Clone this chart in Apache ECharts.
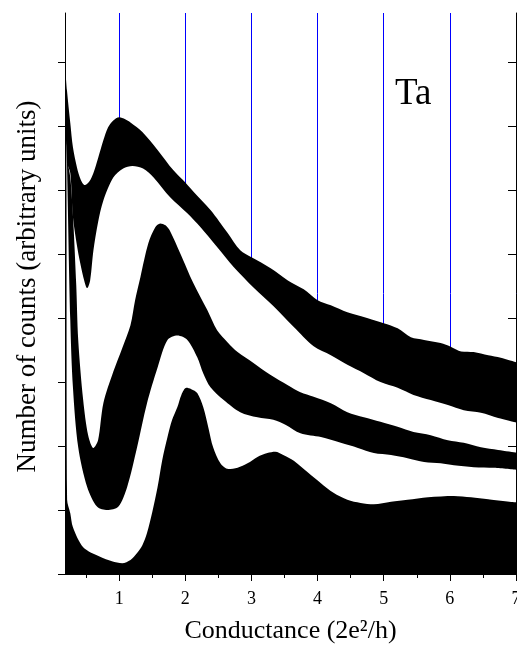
<!DOCTYPE html>
<html>
<head>
<meta charset="utf-8">
<script src="https://cdn.jsdelivr.net/npm/echarts@6/dist/echarts.min.js"></script>
<style>
  html, body { margin: 0; padding: 0; background: #fff; }
  #chart { width: 517px; height: 646px; }
</style>
</head>
<body>
<div id="chart"></div>
<script>
// Conductance histograms of Ta, five curves stacked with vertical offsets.
// Each curve is painted as a filled area down to the baseline; curve 5 first,
// curve 1 last, alternating black and white so the gaps read as bands.

// Curve 1 (lowest)
const g1 = [0.18, 0.2, 0.212, 0.26, 0.30, 0.455, 0.71, 0.89, 1.045, 1.17,
            1.27, 1.35, 1.42, 1.5, 1.58, 1.65, 1.73, 1.8, 1.88, 1.94,
            2.015, 2.09, 2.18, 2.27, 2.35, 2.42, 2.53, 2.65, 2.79, 2.94,
            3.09, 3.24, 3.36, 3.48, 3.64, 3.85, 4.05, 4.24, 4.45, 4.65,
            4.85, 5.11, 5.36, 5.67, 6.06, 6.32, 6.58, 7.0];
const n1 = [7.9, 7.0, 1.16, 0.95, 0.73, 0.42, 0.27, 0.20, 0.17, 0.22,
            0.33, 0.45, 0.64, 0.97, 1.36, 1.78, 2.14, 2.41, 2.61, 2.80,
            2.91, 2.89, 2.83, 2.61, 2.28, 1.98, 1.73, 1.64, 1.66, 1.73,
            1.83, 1.89, 1.91, 1.86, 1.77, 1.59, 1.42, 1.27, 1.16, 1.11,
            1.09, 1.13, 1.16, 1.20, 1.22, 1.20, 1.17, 1.12];

// Curve 2
const g2 = [0.18, 0.2, 0.21, 0.26, 0.30, 0.38, 0.515, 0.667, 0.82, 0.985,
            1.12, 1.27, 1.42, 1.58, 1.73, 1.88, 2.03, 2.18, 2.27, 2.38,
            2.58, 2.83, 3.09, 3.33, 3.52, 3.74, 4.05, 4.35, 4.61, 4.85,
            5.11, 5.36, 5.61, 5.86, 6.06, 6.36, 6.67, 7.0];
const n2 = [7.2, 6.7, 6.42, 3.97, 2.92, 1.98, 1.36, 1.05, 1.0, 1.05,
            1.36, 1.98, 2.67, 3.23, 3.66, 3.73, 3.66, 3.39, 3.14, 2.92,
            2.72, 2.53, 2.45, 2.41, 2.33, 2.20, 2.14, 2.05, 1.97, 1.89,
            1.86, 1.81, 1.75, 1.73, 1.70, 1.67, 1.66, 1.63];

// Curve 3
const g3 = [0.18, 0.21, 0.26, 0.30, 0.35, 0.38, 0.455, 0.53, 0.61, 0.68,
            0.76, 0.91, 1.045, 1.17, 1.24, 1.32, 1.44, 1.545, 1.62, 1.70,
            1.77, 1.92, 2.12, 2.33, 2.48, 2.64, 2.79, 3.03, 3.29, 3.55,
            3.74, 3.94, 4.2, 4.45, 4.7, 4.95, 5.21, 5.45, 5.71, 5.97,
            6.21, 6.47, 6.73, 7.0];
const n3 = [6.9, 6.5, 6.2, 5.61, 4.52, 3.66, 2.72, 2.17, 1.97, 2.09,
            2.67, 3.16, 3.53, 3.89, 4.28, 4.64, 5.17, 5.42, 5.48, 5.45,
            5.36, 5.02, 4.55, 4.13, 3.81, 3.62, 3.47, 3.30, 3.11, 2.95,
            2.84, 2.77, 2.67, 2.53, 2.45, 2.38, 2.30, 2.22, 2.17, 2.09,
            2.05, 1.98, 1.94, 1.90];

// Curve 4
const g4 = [0.18, 0.21, 0.26, 0.30, 0.36, 0.41, 0.47, 0.515, 0.56, 0.61,
            0.68, 0.76, 0.91, 1.06, 1.2, 1.36, 1.52, 1.77, 2.03, 2.23,
            2.48, 2.73, 3.03, 3.33, 3.64, 3.94, 4.2, 4.45, 4.7, 4.95,
            5.21, 5.45, 5.71, 5.97, 6.21, 6.47, 6.73, 7.0];
const n4 = [6.6, 6.42, 6.27, 5.58, 5.14, 4.86, 4.59, 4.47, 4.59, 5.06,
            5.5, 5.84, 6.2, 6.34, 6.38, 6.34, 6.2, 5.89, 5.64, 5.42,
            5.11, 4.8, 4.48, 4.19, 3.86, 3.56, 3.42, 3.27, 3.14, 3.0,
            2.91, 2.8, 2.72, 2.64, 2.56, 2.52, 2.44, 2.37];

// Curve 5 (highest)
const g5 = [0.18, 0.21, 0.26, 0.30, 0.36, 0.42, 0.48, 0.55, 0.61, 0.68,
            0.76, 0.83, 0.91, 1.0, 1.09, 1.17, 1.35, 1.58, 1.82, 2.0,
            2.12, 2.38, 2.64, 2.83, 3.0, 3.29, 3.55, 3.79, 4.0, 4.2,
            4.45, 4.76, 5.0, 5.21, 5.41, 5.61, 5.86, 6.02, 6.17, 6.36,
            6.58, 6.77, 7.0];
const n5 = [7.98, 7.56, 7.05, 6.67, 6.36, 6.16, 6.08, 6.14, 6.27, 6.5,
            6.78, 6.98, 7.09, 7.14, 7.11, 7.06, 6.91, 6.63, 6.31, 6.12,
            5.98, 5.69, 5.33, 5.06, 4.95, 4.78, 4.59, 4.45, 4.28, 4.2,
            4.09, 4.0, 3.92, 3.84, 3.7, 3.66, 3.61, 3.55, 3.48, 3.47,
            3.42, 3.38, 3.31];

// Band numbers and where they sit (conductance, counts)
const bandNames = ['1', '2', '3', '4', '5'];
const bandLabelG = [2.24, 2.97, 3.47, 3.83, 4.33];
const bandLabelN = [1.17, 2.11, 2.69, 3.25, 3.73];

// Tick positions
const xTicks = [1, 2, 3, 4, 5, 6, 7];
const yTicksLeft = [0, 1, 2, 3, 4, 5, 6, 7, 8];
const yTicksRight = [1, 2, 3, 4, 5, 6, 7, 8];

const G_MIN = 0.18, G_MAX = 7;
const N_MIN = 0, N_MAX = 8.77;
const FONT = '"Liberation Serif", "Times New Roman", serif';

const curves = [
  { g: g5, n: n5, color: '#000000' },
  { g: g4, n: n4, color: '#ffffff' },
  { g: g3, n: n3, color: '#000000' },
  { g: g2, n: n2, color: '#ffffff' },
  { g: g1, n: n1, color: '#000000' }
];

const areaSeries = curves.map((c, i) => ({
  type: 'line',
  xAxisIndex: 0,
  yAxisIndex: 0,
  z: 2 + i,
  data: c.g.map((x, j) => [x, c.n[j]]),
  symbol: 'none',
  smooth: 0.3,
  lineStyle: { width: 0, color: c.color },
  areaStyle: { color: c.color, opacity: 1, origin: 'start' },
  silent: true
}));

const labelSeries = {
  type: 'scatter',
  xAxisIndex: 0,
  yAxisIndex: 0,
  z: 20,
  symbolSize: 1,
  itemStyle: { opacity: 0 },
  silent: true,
  data: bandNames.map((name, i) => ({
    value: [bandLabelG[i], bandLabelN[i]],
    name: name,
    label: { color: i % 2 === 0 ? '#ffffff' : '#000000' }
  })),
  label: {
    show: true,
    position: 'inside',
    formatter: p => p.name,
    fontSize: 32,
    fontFamily: FONT
  }
};

const chart = echarts.init(document.getElementById('chart'), null, { renderer: 'canvas' });

chart.setOption({
  animation: false,
  backgroundColor: '#ffffff',
  grid: { left: 65, right: 1, top: 13, bottom: 72, containLabel: false, outerBoundsMode: 'none' },
  xAxis: [
    {
      type: 'value', position: 'bottom', min: G_MIN, max: G_MAX, z: 10,
      minInterval: 1, maxInterval: 1,
      axisLine: { show: true, lineStyle: { color: '#000', width: 1 } },
      axisTick: { show: true, inside: false, length: 7, customValues: xTicks, lineStyle: { color: '#000' } },
      minorTick: { show: true, splitNumber: 2, length: 4, lineStyle: { color: '#000' } },
      axisLabel: { show: true, customValues: xTicks, margin: 16, fontSize: 18, fontFamily: FONT, color: '#000' },
      splitLine: { show: false },
      name: 'Conductance (2e\u00B2/h)',
      nameLocation: 'middle',
      nameGap: 44,
      nameTextStyle: { fontSize: 26, fontFamily: FONT, color: '#000' }
    },
    {
      type: 'value', position: 'top', min: G_MIN, max: G_MAX, z: 0,
      minInterval: 1, maxInterval: 1,
      axisLine: { show: true, lineStyle: { color: '#000', width: 1 } },
      axisTick: { show: true, inside: true, length: 7, customValues: xTicks, lineStyle: { color: '#000' } },
      minorTick: { show: true, splitNumber: 2, length: 4, lineStyle: { color: '#000' } },
      axisLabel: { show: false },
      splitLine: { show: true, lineStyle: { color: '#0000ff', width: 1 } }
    }
  ],
  yAxis: [
    {
      type: 'value', position: 'left', min: N_MIN, max: N_MAX, z: 10,
      axisLine: { show: true, lineStyle: { color: '#000', width: 1 } },
      axisTick: { show: true, inside: false, length: 7, customValues: yTicksLeft, lineStyle: { color: '#000' } },
      axisLabel: { show: false },
      splitLine: { show: false },
      name: 'Number of counts (arbitrary units)',
      nameLocation: 'middle',
      nameGap: 24,
      nameTextStyle: { fontSize: 27, fontFamily: FONT, color: '#000', padding: [0, 0, 0, 14] }
    },
    {
      type: 'value', position: 'right', min: N_MIN, max: N_MAX, z: 10,
      axisLine: { show: true, lineStyle: { color: '#000', width: 1 } },
      axisTick: { show: true, inside: true, length: 8, customValues: yTicksRight, lineStyle: { color: '#000' } },
      axisLabel: { show: false },
      splitLine: { show: false }
    }
  ],
  series: areaSeries.concat([labelSeries]),
  graphic: [
    {
      type: 'text',
      left: 395,
      top: 76,
      z: 30,
      style: { text: 'Ta', font: '37px ' + FONT, fill: '#000' }
    }
  ]
});
</script>
</body>
</html>
